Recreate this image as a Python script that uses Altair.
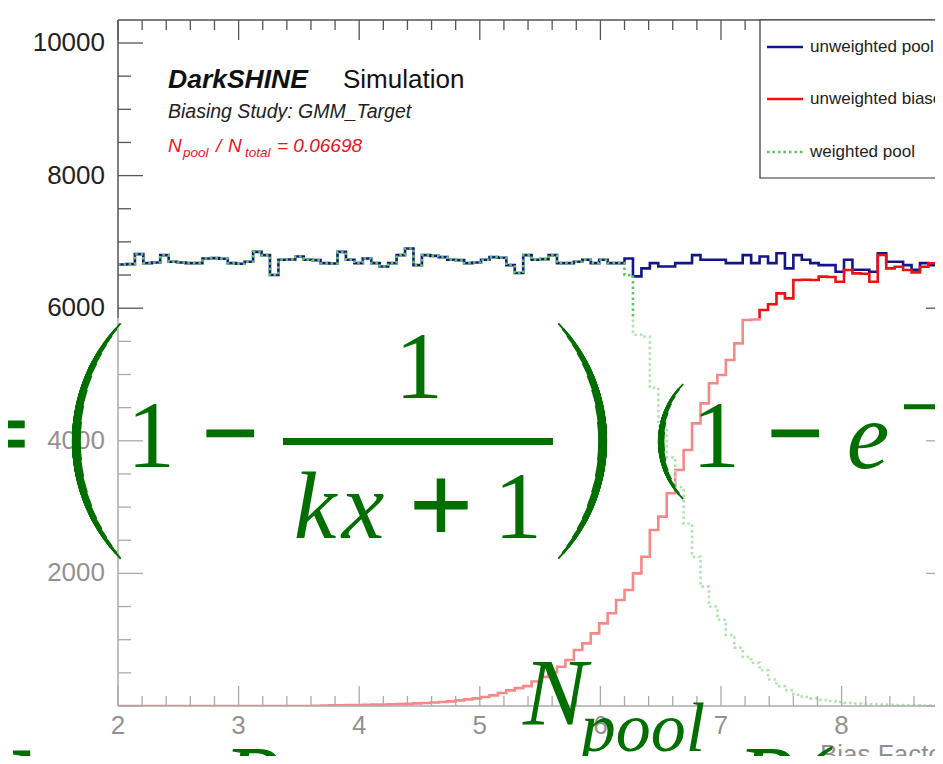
import altair as alt
import pandas as pd

# ---------------- data ----------------
BIN_START = 2.0
BIN_WIDTH = 0.07
N_BINS = 100

unweighted_pool = [
    6660, 6665, 6815, 6680, 6690, 6800, 6700, 6690, 6680, 6680,
    6750, 6755, 6745, 6680, 6670, 6700, 6850, 6800, 6500, 6730,
    6735, 6780, 6730, 6725, 6680, 6675, 6850, 6730, 6680, 6750,
    6680, 6630, 6680, 6800, 6900, 6650, 6800, 6790, 6770, 6730,
    6725, 6680, 6690, 6730, 6770, 6760, 6650, 6530, 6800, 6730,
    6740, 6800, 6680, 6680, 6700, 6730, 6680, 6730, 6680, 6680,
    6750, 6480, 6600, 6680, 6630, 6630, 6680, 6680, 6800, 6730,
    6730, 6730, 6680, 6680, 6800, 6680, 6780, 6680, 6830, 6600,
    6800, 6730, 6680, 6650, 6650, 6550, 6730, 6580, 6580, 6550,
    6830, 6700, 6700, 6650, 6580, 6680, 6650, 6700, 6680, 6690,
]

unweighted_biased = [
    0, 0, 0, 0, 0, 0, 0, 0, 0, 0,
    0, 0, 0, 0, 0, 0, 0, 0, 0, 0,
    0, 0, 0, 3, 8, 10, 12, 14, 15, 18,
    20, 22, 26, 30, 34, 40, 46, 52, 60, 70,
    85, 100, 115, 135, 160, 195, 235, 270, 300, 370,
    440, 510, 593, 694, 845, 945, 1096, 1247, 1398, 1599,
    1750, 2001, 2252, 2655, 2856, 3208, 3560, 3861, 4263, 4565,
    4867, 4992, 5219, 5470, 5822, 5830, 5973, 6060, 6224, 6149,
    6425, 6430, 6425, 6476, 6470, 6400, 6576, 6526, 6520, 6400,
    6802, 6601, 6626, 6576, 6540, 6626, 6677, 6702, 6650, 6690,
]

# weighted pool coincides with the unweighted pool below 6.2, then falls off
weighted_pool_tail = [
    6500, 5600, 5570, 4800, 4220, 3750, 3300, 2750, 2250, 1800,
    1500, 1300, 1070, 880, 740, 650, 540, 400, 300, 240,
    170, 135, 115, 90, 75, 60, 45, 38, 30, 25,
    20, 17, 14, 12, 10, 8, 6, 5, 4, 3,
]
weighted_pool = unweighted_pool[:60] + weighted_pool_tail

x_tick_major = [2, 3, 4, 5, 6, 7, 8, 9]
x_tick_labels = ["2", "3", "4", "5", "6", "7", "8"]
x_tick_minor = [round(2 + 0.2 * i, 1) for i in range(36) if i % 5]
y_tick_major = [0, 2000, 4000, 6000, 8000, 10000]
y_tick_labels = ["2000", "4000", "6000", "8000", "10000"]
y_tick_minor = [500 * i for i in range(21) if i % 4]

legend_labels = ["unweighted pool", "unweighted biased", "weighted pool"]

# ---------------- styling ----------------
W, H = 817, 686
BLUE = "#14148c"
RED = "#ee1111"
LGREEN = "#5cc85c"
FGREEN = "#006f00"
AX = "#555555"
SANS = "Liberation Sans"
SERIF = "Liberation Serif"

PX_PER_UNIT = 120.6
xs = alt.Scale(domain=[2, 2 + W / PX_PER_UNIT], nice=False, zero=False)
ys = alt.Scale(domain=[0, 10347], nice=False, zero=False)

edges = [round(BIN_START + BIN_WIDTH * i, 2) for i in range(N_BINS + 1)]
one = pd.DataFrame({"k": [0]})


def hist_layer(vals, color, width, dash=None):
    df = pd.DataFrame({"x": edges, "v": list(vals) + [vals[-1]]})
    kw = dict(interpolate="step-after", clip=True, color=color, strokeWidth=width)
    if dash:
        kw["strokeDash"] = dash
    return alt.Chart(df).mark_line(**kw).encode(
        x=alt.X("x:Q", scale=xs, axis=None),
        y=alt.Y("v:Q", scale=ys, axis=None),
    )


def rule(x1, x2, y1, y2, color=AX, width=1.5, dash=None):
    kw = dict(color=color, strokeWidth=width)
    if dash:
        kw["strokeDash"] = dash
    return alt.Chart(one).mark_rule(**kw).encode(
        x=alt.value(x1), x2=alt.value(x2), y=alt.value(y1), y2=alt.value(y2)
    )


def txt(s, x, y, size, font=SERIF, style="normal", weight="normal",
        color=FGREEN, align="center", baseline="alphabetic", stroke_w=0):
    kw = dict(text=s, font=font, fontSize=size, fontStyle=style,
              fontWeight=weight, fill=color, align=align, baseline=baseline)
    if stroke_w:
        kw.update(stroke=color, strokeWidth=stroke_w)
    return alt.Chart(one).mark_text(**kw).encode(x=alt.value(x), y=alt.value(y))


def arc(cx, cy, r, thick, mid, half):
    return alt.Chart(one).mark_arc(
        radius=r, radius2=r - thick, theta=mid - half, theta2=mid + half,
        fill=FGREEN,
    ).encode(x=alt.value(cx), y=alt.value(cy))


def paren(cx, cy, r, mid, profile):
    return [arc(cx, cy, r, t, mid, h) for t, h in profile]


layers = []

# histograms
layers.append(hist_layer(unweighted_pool, BLUE, 2.6))
layers.append(hist_layer(unweighted_biased, RED, 2.6))
layers.append(hist_layer(weighted_pool, LGREEN, 2.6, dash=[2.5, 3]))

# frame / axes
layers.append(rule(0, 0, 0, H))
layers.append(rule(0, 900, H, H))
layers.append(rule(0, 900, 0, 0))

xt_major = pd.DataFrame({"t": x_tick_major})
xt_minor = pd.DataFrame({"t": x_tick_minor})
for df, ln in ((xt_major, 20), (xt_minor, 10)):
    layers.append(alt.Chart(df).mark_rule(color=AX, strokeWidth=1.3).encode(
        x=alt.X("t:Q", scale=xs, axis=None), y=alt.value(H), y2=alt.value(H - ln)))
    layers.append(alt.Chart(df).mark_rule(color=AX, strokeWidth=1.3).encode(
        x=alt.X("t:Q", scale=xs, axis=None), y=alt.value(0), y2=alt.value(ln)))

yt_major = pd.DataFrame({"t": y_tick_major})
yt_minor = pd.DataFrame({"t": y_tick_minor})
layers.append(alt.Chart(yt_major).mark_rule(color=AX, strokeWidth=1.3).encode(
    y=alt.Y("t:Q", scale=ys, axis=None), x=alt.value(0), x2=alt.value(25)))
layers.append(alt.Chart(yt_minor).mark_rule(color=AX, strokeWidth=1.3).encode(
    y=alt.Y("t:Q", scale=ys, axis=None), x=alt.value(0), x2=alt.value(13)))
layers.append(alt.Chart(yt_major).mark_rule(color=AX, strokeWidth=1.3).encode(
    y=alt.Y("t:Q", scale=ys, axis=None), x=alt.value(808), x2=alt.value(835)))

# tick labels
ylab = pd.DataFrame({"t": [int(v) for v in y_tick_labels], "lab": y_tick_labels})
layers.append(alt.Chart(ylab).mark_text(
    font=SANS, fontSize=26, color="#222222", align="right", baseline="middle"
).encode(y=alt.Y("t:Q", scale=ys, axis=None), x=alt.value(-13), text="lab:N"))
xlab = pd.DataFrame({"t": [int(v) for v in x_tick_labels], "lab": x_tick_labels})
layers.append(alt.Chart(xlab).mark_text(
    font=SANS, fontSize=26, color="#222222", align="center", baseline="alphabetic"
).encode(x=alt.X("t:Q", scale=xs, axis=None), y=alt.value(714), text="lab:N"))

# axis title (partly outside the window)
layers.append(txt("Bias Factor", 702, 743, 26, font=SANS, color="#222222", align="left"))

# legend
layers.append(alt.Chart(one).mark_rect(fill="white", stroke="#333333", strokeWidth=1.2).encode(
    x=alt.value(642), x2=alt.value(950), y=alt.value(0), y2=alt.value(158)))
leg_y = [27, 79, 132]
layers.append(rule(649, 685, leg_y[0], leg_y[0], color=BLUE, width=2.6))
layers.append(rule(649, 685, leg_y[1], leg_y[1], color=RED, width=2.6))
layers.append(rule(649, 685, leg_y[2], leg_y[2], color=LGREEN, width=2.6, dash=[2.5, 3]))
for lab, yy in zip(legend_labels, leg_y):
    layers.append(txt(lab, 692, yy, 17, font=SANS, color="#222222",
                      align="left", baseline="middle"))

# header text
layers.append(txt("DarkSHINE", 50, 68, 26.5, font=SANS, style="italic", weight="bold",
                  color="#111111", align="left"))
layers.append(txt("Simulation", 225, 68, 26, font=SANS, color="#111111", align="left"))
layers.append(txt("Biasing Study: GMM_Target", 50, 98, 19.5, font=SANS, style="italic",
                  color="#222222", align="left"))
HRED = "#e8141c"
layers.append(txt("N", 50, 132, 19, font=SANS, style="italic", color=HRED, align="left"))
layers.append(txt("pool", 65, 137, 13.5, font=SANS, style="italic", color=HRED, align="left"))
layers.append(txt("/", 98, 132, 19, font=SANS, style="italic", color=HRED, align="left"))
layers.append(txt("N", 110, 132, 19, font=SANS, style="italic", color=HRED, align="left"))
layers.append(txt("total", 127, 137, 13.5, font=SANS, style="italic", color=HRED, align="left"))
layers.append(txt("= 0.06698", 159, 132, 19, font=SANS, style="italic", color=HRED, align="left"))

# faded veil behind the formula
layers.append(alt.Chart(one).mark_rect(fill="white", opacity=0.5).encode(
    x=alt.value(-130), x2=alt.value(900), y=alt.value(298), y2=alt.value(760)))

# ---------------- formula overlay ----------------
big = [(2.0, 0.77), (2.8, 0.73), (3.6, 0.68), (4.4, 0.62), (5.2, 0.56),
       (6.0, 0.49), (6.8, 0.41), (7.6, 0.32), (8.3, 0.22), (8.8, 0.12)]
small = [(1.8, 0.80), (2.6, 0.72), (3.4, 0.62), (4.2, 0.51),
         (5.0, 0.39), (5.8, 0.26), (6.4, 0.13)]
layers += paren(124, 421, 170, 4.712, big)      # big "("
layers += paren(319, 421, 170, 1.571, big)      # big ")"
layers += paren(621, 421.5, 81, 4.712, small)   # small "("

layers.append(txt("=", -90, 446, 96, align="right", stroke_w=3))
layers.append(txt("1", 33, 447, 96))
layers.append(txt("\u2212", 112, 445, 96, stroke_w=3))
layers.append(txt("1", 301, 378, 96))
layers.append(rule(165, 435, 421.5, 421.5, color=FGREEN, width=7))
layers.append(txt("k", 197, 518, 96, style="italic"))
layers.append(txt("x", 245, 518, 96, style="italic"))
layers.append(txt("+", 323, 521, 108, stroke_w=3))
layers.append(txt("1", 400, 518, 96))
layers.append(txt("1", 598, 447, 96))
layers.append(txt("\u2212", 677, 445, 96, stroke_w=3))
layers.append(txt("e", 750, 448, 96, style="italic"))
layers.append(txt("\u2212", 803, 410, 70, stroke_w=1.5))

layers.append(txt("N", 437, 705, 96, style="italic"))
layers.append(txt("pool", 525, 731, 70, style="italic"))
layers.append(txt("P", 105, 792, 96, style="italic", align="left"))
layers.append(txt("t", 212, 796, 96, style="italic", align="left"))
layers.append(txt("P(", 619, 792, 96, style="italic", align="left"))
layers.append(txt("l", -106, 798, 96, align="left", stroke_w=2))

chart = alt.layer(*layers).properties(
    width=W,
    height=H,
    autosize=alt.AutoSizeParams(type="none"),
    padding={"left": 110, "top": 12, "right": 0, "bottom": 50},
).configure_view(stroke=None)

chart.save("out.html", embed_options={"renderer": "svg", "actions": False})
